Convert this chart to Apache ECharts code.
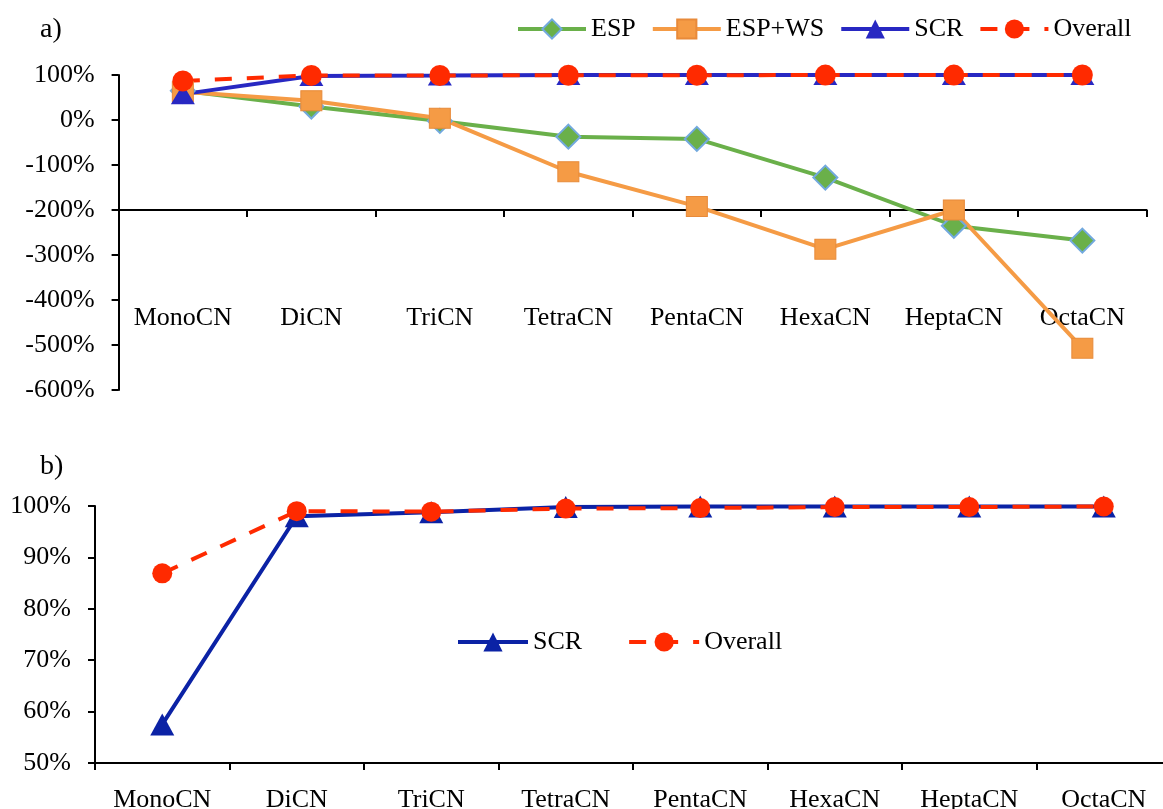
<!DOCTYPE html>
<html>
<head>
<meta charset="utf-8">
<script src="https://cdn.jsdelivr.net/npm/echarts@6/dist/echarts.min.js"></script>
<style>html,body{margin:0;padding:0;background:#fff;}#c{width:1163px;height:809px;}</style>
</head>
<body>
<div id="c"></div>
<script>
var categories = ['MonoCN','DiCN','TriCN','TetraCN','PentaCN','HexaCN','HeptaCN','OctaCN'];
var espValues = [65, 30, -2, -37, -42, -128, -235, -268];
var espWsValues = [63, 43, 4, -115, -192, -287, -200, -507];
var scrValues = [57.5, 98.0, 98.8, 99.8, 99.9, 99.9, 99.9, 99.9];
var overallValues = [86.9, 99.0, 98.9, 99.5, 99.6, 99.8, 99.8, 99.9];
var topTicks = {min: -600, max: 100, interval: 100};
var bottomTicks = {min: 50, max: 100, interval: 10};

var FONT = 'Liberation Serif';
var chart = echarts.init(document.getElementById('c'), null, {renderer: 'canvas'});

function valAxis(grid, t, margin) {
  return {
    type: 'value', gridIndex: grid, min: t.min, max: t.max, interval: t.interval,
    axisLine: {show: true, lineStyle: {color: '#000', width: 2}},
    axisTick: {show: true, length: 7, lineStyle: {color: '#000', width: 2}},
    splitLine: {show: false},
    axisLabel: {formatter: '{value}%', color: '#000', fontFamily: FONT, fontSize: 26, margin: margin}
  };
}
function catAxis(grid, offset, margin) {
  return {
    type: 'category', gridIndex: grid, data: categories, position: 'bottom', offset: offset,
    boundaryGap: true,
    axisLine: {show: true, onZero: false, lineStyle: {color: '#000', width: 2}},
    axisTick: {show: true, length: 7, alignWithLabel: false, lineStyle: {color: '#000', width: 2}},
    axisLabel: {color: '#000', fontFamily: FONT, fontSize: 26, margin: margin, interval: 0}
  };
}

var option = {
  animation: false,
  backgroundColor: '#fff',
  title: [
    {text: 'a)', left: 35, top: 11, textStyle: {fontFamily: FONT, fontSize: 28, fontWeight: 'normal', color: '#000'}},
    {text: 'b)', left: 35, top: 448, textStyle: {fontFamily: FONT, fontSize: 28, fontWeight: 'normal', color: '#000'}}
  ],
  legend: [
    {
      data: ['ESP', 'ESP+WS', 'SCR', 'Overall'],
      left: 511, top: 11, itemWidth: 68, itemHeight: 24, itemGap: 15,
      lineStyle: {width: 4},
      textStyle: {fontFamily: FONT, fontSize: 26, color: '#000'}
    },
    {
      data: ['SCR ', 'Overall '],
      left: 451, top: 624, itemWidth: 70, itemHeight: 24, itemGap: 45,
      lineStyle: {width: 4},
      formatter: function (n) { return n.trim(); },
      textStyle: {fontFamily: FONT, fontSize: 26, color: '#000'}
    }
  ],
  grid: [
    {left: 118.6, top: 75, width: 1028, height: 315, containLabel: false, outerBoundsMode: 'none'},
    {left: 95, top: 506, width: 1076, height: 257, containLabel: false, outerBoundsMode: 'none'}
  ],
  xAxis: [catAxis(0, -180, 95), catAxis(1, 0, 24)],
  yAxis: [valAxis(0, topTicks, 24), valAxis(1, bottomTicks, 24)],
  series: [
    {
      name: 'ESP', type: 'line', xAxisIndex: 0, yAxisIndex: 0, data: espValues,
      symbol: 'diamond', symbolSize: [24, 24],
      lineStyle: {color: '#6AB04A', width: 4},
      itemStyle: {color: '#6AB04A', borderColor: '#72A9DE', borderWidth: 2}
    },
    {
      name: 'ESP+WS', type: 'line', xAxisIndex: 0, yAxisIndex: 0, data: espWsValues,
      symbol: 'rect', symbolSize: [21, 20],
      lineStyle: {color: '#F59B45', width: 4},
      itemStyle: {color: '#F59B45', borderColor: '#E88A3A', borderWidth: 1}
    },
    {
      name: 'SCR', type: 'line', xAxisIndex: 0, yAxisIndex: 0, data: scrValues,
      symbol: 'triangle', symbolSize: [24, 20],
      lineStyle: {color: '#2828C2', width: 4},
      itemStyle: {color: '#2828C2'}
    },
    {
      name: 'Overall', type: 'line', xAxisIndex: 0, yAxisIndex: 0, data: overallValues,
      symbol: 'circle', symbolSize: 21,
      lineStyle: {color: '#FF2A00', width: 4, type: [17, 15]},
      itemStyle: {color: '#FF2A00'}
    },
    {
      name: 'SCR ', type: 'line', xAxisIndex: 1, yAxisIndex: 1, data: scrValues,
      symbol: 'triangle', symbolSize: [24, 22],
      lineStyle: {color: '#0B22A5', width: 4},
      itemStyle: {color: '#0B22A5'}
    },
    {
      name: 'Overall ', type: 'line', xAxisIndex: 1, yAxisIndex: 1, data: overallValues,
      symbol: 'circle', symbolSize: 20,
      lineStyle: {color: '#FF2A00', width: 4, type: [17, 15]},
      itemStyle: {color: '#FF2A00'}
    }
  ]
};
chart.setOption(option);
</script>
</body>
</html>
